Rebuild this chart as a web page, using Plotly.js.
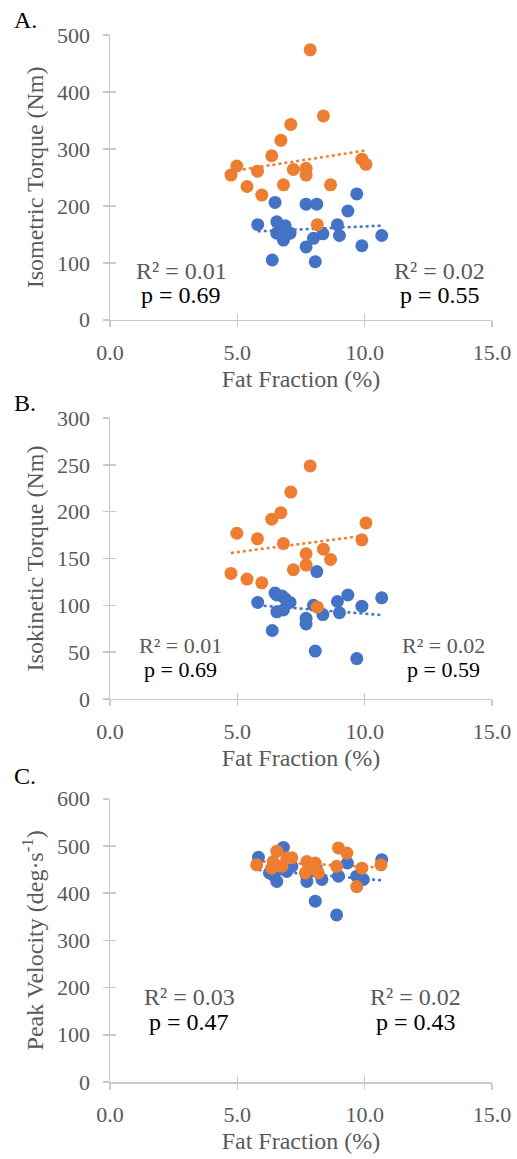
<!DOCTYPE html>
<html><head><meta charset="utf-8">
<script src="https://cdn.plot.ly/plotly-3.0.1.min.js"></script>
<style>html,body{margin:0;padding:0;background:#fff}#chart{width:517px;height:1159px}</style>
</head><body><div id="chart"></div>
<script>
// Panels A & B share the fat fraction values of each group
const blueFat      = [5.80, 6.37, 6.48, 6.55, 6.55, 6.75, 6.81, 6.88, 7.07, 7.70, 7.70, 7.99, 8.06, 8.12, 8.36, 8.93, 9.01, 9.34, 9.69, 9.89, 10.67];
const blueIsometric= [167, 105, 206, 172, 152, 155, 140, 165, 152, 203, 128, 143, 102, 203, 151, 167, 148, 191, 221, 130, 148];
const blueIsokinetic=[103, 73, 113, 111, 93, 110, 95, 107, 103, 86, 80, 100, 51, 136, 90, 104, 92, 111, 43, 99, 108];

const orangeFat      = [4.75, 4.98, 5.38, 5.79, 5.96, 6.35, 6.71, 6.81, 7.10, 7.20, 7.70, 7.70, 7.86, 8.14, 8.38, 8.66, 9.89, 10.05];
const orangeIsometric= [254, 270, 234, 261, 219, 288, 315, 237, 343, 264, 266, 254, 474, 167, 358, 237, 282, 273];
const orangeIsokinetic=[134, 177, 128, 171, 124, 192, 199, 166, 221, 138, 155, 143, 249, 98, 160, 149, 170, 188];

// Panel C
const blueVelFat = [5.83, 6.81, 10.67, 9.32, 8.97, 8.06, 8.90, 6.55, 6.26, 7.73, 8.32, 9.69, 9.95, 6.94, 7.14, 6.41, 7.86, 6.60, 7.70, 8.10];
const blueVel    = [476, 497, 471, 464, 436, 383, 354, 425, 443, 425, 429, 436, 429, 446, 457, 439, 446, 450, 440, 452];
const orangeVelFat = [5.76, 6.55, 6.94, 7.14, 6.35, 6.75, 7.73, 8.06, 7.86, 8.18, 7.67, 8.97, 9.30, 8.90, 9.89, 9.69, 10.64, 6.41];
const orangeVel    = [460, 489, 475, 475, 453, 457, 467, 464, 453, 443, 443, 496, 485, 457, 453, 414, 460, 467];

const panelLabels = ["A.", "B.", "C."];
const yTitles = ["Isometric Torque (Nm)", "Isokinetic Torque (Nm)", "Peak Velocity (deg·s<sup>-1</sup>)"];
const xTitle = "Fat Fraction (%)";
const yRanges = [[0, 500], [0, 300], [0, 600]];
const yDticks = [100, 50, 100];
const statsLeft  = [["R² = 0.01", "p = 0.69"], ["R² = 0.01", "p = 0.69"], ["R² = 0.03", "p = 0.47"]];
const statsRight = [["R² = 0.02", "p = 0.55"], ["R² = 0.02", "p = 0.59"], ["R² = 0.02", "p = 0.43"]];

const BLUE = "#4472C4", ORANGE = "#ED7D31";
const FONT = "'Liberation Serif', 'Times New Roman', serif";
const GRAY = "#595959", AXIS = "#c9c9c9";

function fit(x, y) {
  const n = x.length;
  const mx = x.reduce((a, b) => a + b, 0) / n, my = y.reduce((a, b) => a + b, 0) / n;
  let sxy = 0, sxx = 0;
  for (let i = 0; i < n; i++) { sxy += (x[i] - mx) * (y[i] - my); sxx += (x[i] - mx) ** 2; }
  const b = sxy / sxx, a = my - b * mx;
  const x0 = Math.min(...x), x1 = Math.max(...x);
  return { x: [x0, x1], y: [a + b * x0, a + b * x1] };
}

const panels = [
  { bx: blueFat, by: blueIsometric, ox: orangeFat, oy: orangeIsometric },
  { bx: blueFat, by: blueIsokinetic, ox: orangeFat, oy: orangeIsokinetic },
  { bx: blueVelFat, by: blueVel, ox: orangeVelFat, oy: orangeVel }
];

const W = 517, H = 1159;
const margin = { l: 110, r: 25, t: 35, b: 77 };
const domains = [[0.728, 1.0], [0.366, 0.634], [0.0, 0.2705]];

const traces = [];
const layout = {
  width: W, height: H, margin: margin, showlegend: false,
  paper_bgcolor: "#fff", plot_bgcolor: "#fff",
  font: { family: FONT, color: GRAY },
  annotations: []
};

const statPos = [
  { lx: 2.8, rx: 12.95, ry: [86, 44], size: 24 },
  { lx: 2.75, rx: 13.1, ry: [57, 31], size: 22 },
  { lx: 3.12, rx: 12.0, ry: [181, 128], size: 24 }
];

panels.forEach((p, i) => {
  const xa = "x" + (i === 0 ? "" : i + 1), ya = "y" + (i === 0 ? "" : i + 1);
  const xk = "xaxis" + (i === 0 ? "" : i + 1), yk = "yaxis" + (i === 0 ? "" : i + 1);
  const ox = "x" + (i + 4), oy = "y" + (i + 4);
  const fb = fit(p.bx, p.by), fo = fit(p.ox, p.oy);
  traces.push({ x: fb.x, y: fb.y, xaxis: xa, yaxis: ya, mode: "lines", line: { color: BLUE, dash: "dot", width: 2.5 }, hoverinfo: "skip" });
  traces.push({ x: fo.x, y: fo.y, xaxis: xa, yaxis: ya, mode: "lines", line: { color: ORANGE, dash: "dot", width: 2.5 }, hoverinfo: "skip" });
  traces.push({ x: p.bx, y: p.by, xaxis: xa, yaxis: ya, mode: "markers", marker: { color: BLUE, size: 13 } });
  traces.push({ x: p.ox, y: p.oy, xaxis: xa, yaxis: ya, mode: "markers", marker: { color: ORANGE, size: 13 } });
  // empty trace hosting the overlay axes (inner half of the crossing ticks)
  traces.push({ x: [], y: [], xaxis: ox, yaxis: oy, mode: "markers" });

  layout[xk] = {
    domain: [0, 1], anchor: ya, range: [0, 15], dtick: 5, tick0: 0, tickformat: ".1f",
    showgrid: false, zeroline: false, showline: true, linecolor: AXIS, linewidth: 1.5,
    ticks: "outside", ticklen: 6, tickcolor: AXIS, tickwidth: 1.5, ticklabelstandoff: 6,
    tickfont: { family: FONT, size: 22, color: GRAY },
    title: { text: xTitle, font: { family: FONT, size: 24, color: GRAY }, standoff: 6 }
  };
  layout[yk] = {
    domain: domains[i], anchor: xa, range: yRanges[i], dtick: yDticks[i], tick0: 0,
    showgrid: false, zeroline: false, showline: true, linecolor: AXIS, linewidth: 1.5,
    ticks: "outside", ticklen: 6, tickcolor: AXIS, tickwidth: 1.5, ticklabelstandoff: 8,
    tickfont: { family: FONT, size: 22, color: GRAY },
    title: { text: yTitles[i], font: { family: FONT, size: 24, color: GRAY }, standoff: 6 }
  };
  layout["xaxis" + (i + 4)] = {
    overlaying: xa, anchor: oy, range: [0, 15], dtick: 5, tick0: 0,
    showgrid: false, zeroline: false, showline: false, showticklabels: false,
    ticks: "inside", ticklen: 6, tickcolor: AXIS, tickwidth: 1.5
  };
  layout["yaxis" + (i + 4)] = {
    overlaying: ya, anchor: ox, range: yRanges[i], dtick: yDticks[i], tick0: 0,
    showgrid: false, zeroline: false, showline: false, showticklabels: false,
    ticks: "inside", ticklen: 6, tickcolor: AXIS, tickwidth: 1.5
  };

  const sp = statPos[i];
  layout.annotations.push(
    { xref: xa, yref: ya, x: sp.lx, y: sp.ry[0], text: statsLeft[i][0], showarrow: false, font: { family: FONT, size: sp.size, color: GRAY } },
    { xref: xa, yref: ya, x: sp.lx, y: sp.ry[1], text: statsLeft[i][1], showarrow: false, font: { family: FONT, size: sp.size, color: "#000" } },
    { xref: xa, yref: ya, x: sp.rx, y: sp.ry[0], text: statsRight[i][0], showarrow: false, font: { family: FONT, size: sp.size, color: GRAY } },
    { xref: xa, yref: ya, x: sp.rx, y: sp.ry[1], text: statsRight[i][1], showarrow: false, font: { family: FONT, size: sp.size, color: "#000" } }
  );
});

const labelY = [1.0145, 0.6486, 0.2925];
panelLabels.forEach((t, i) => {
  layout.annotations.push({ xref: "paper", yref: "paper", x: -0.256, y: labelY[i], xanchor: "left", yanchor: "middle",
    text: t, showarrow: false, font: { family: FONT, size: 24, color: "#000" } });
});

Plotly.newPlot("chart", traces, layout, { displayModeBar: false, staticPlot: true });
</script>
</body></html>
